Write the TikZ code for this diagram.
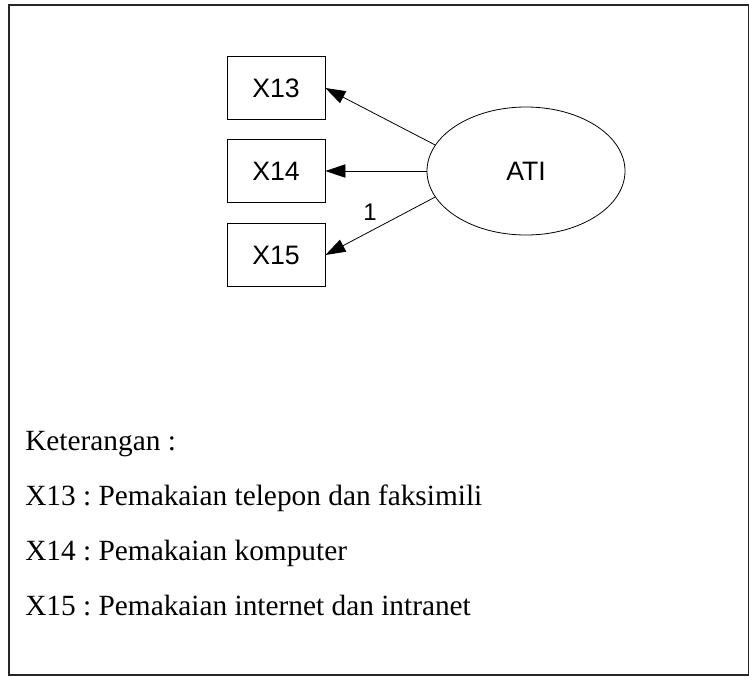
\documentclass[tikz,border=0pt]{standalone}
\usepackage{fontspec}
\setmainfont{Liberation Serif}
\newfontfamily\arialfont{Liberation Sans}
\usetikzlibrary{arrows.meta,shapes.geometric}
\frenchspacing

\tikzset{
  ind/.style={draw, line width=0.6pt, minimum width=98*0.75pt, minimum height=63*0.75pt,
              inner sep=0pt, font=\arialfont\fontsize{20pt}{22pt}\selectfont},
  latent/.style={draw, ellipse, line width=0.6pt, minimum width=198*0.75pt,
                 minimum height=128*0.75pt, inner sep=0pt,
                 font=\arialfont\fontsize{20pt}{22pt}\selectfont},
  load/.style={line width=0.6pt, -{Triangle[length=15pt,width=10pt]}},
  legend/.style={anchor=base west, inner sep=0pt, font=\fontsize{22pt}{24pt}\selectfont}
}

\begin{document}
\begin{tikzpicture}[x=0.75pt, y=-0.75pt]
  \useasboundingbox (0,0) rectangle (749,676);
  % outer frame
  \draw[line width=1.5pt, black!85] (8.5,4.5) rectangle (748.5,674.5);

  % measurement model
  \node[ind] (x13) at (276,88) {X13};
  \node[ind] (x14) at (276,171) {X14};
  \node[ind] (x15) at (276,255) {X15};
  \node[latent] (ati) at (526,171) {ATI};

  \draw[load] (ati.164) -- (x13.east);
  \draw[load] (ati.west) -- (x14.east);
  \draw[load] (ati.196) -- (x15.east);
  \node[font=\arialfont\fontsize{18pt}{20pt}\selectfont, inner sep=0pt] (one) at (370,212) {1};

  % legend
  \node[legend] (k0) at (25,450) {Keterangan :};
  \node[legend] (k1) at (25,505) {X13 : Pemakaian telepon dan faksimili};
  \node[legend] (k2) at (25,560) {X14 : Pemakaian komputer};
  \node[legend] (k3) at (25,615) {X15 : Pemakaian internet dan intranet};
\end{tikzpicture}
\end{document}
